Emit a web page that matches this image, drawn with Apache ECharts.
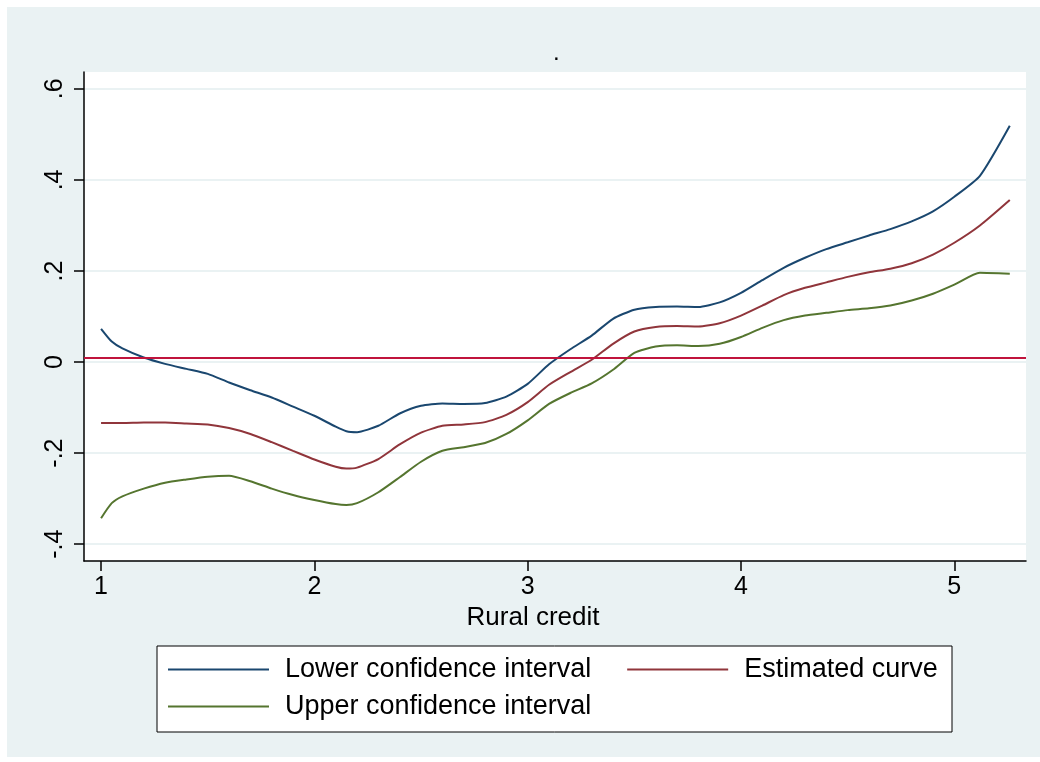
<!DOCTYPE html>
<html>
<head>
<meta charset="utf-8">
<script src="https://cdn.jsdelivr.net/npm/echarts@6/dist/echarts.min.js"></script>
<style>
  html, body { margin: 0; padding: 0; background: #ffffff; }
  #wrap { position: relative; width: 1040px; height: 762px; }
  #bg { position: absolute; left: 7px; top: 7px; right: 0; bottom: 5px; background: #EAF2F3; }
  #chart { position: absolute; left: 0; top: 0; width: 1040px; height: 762px; }
</style>
</head>
<body>
<div id="wrap">
  <div id="bg"></div>
  <div id="chart"></div>
</div>
<script>
// Rural credit (x) and the fitted effect with its confidence band
const creditX = [1.0, 1.05, 1.1, 1.2, 1.3, 1.4, 1.5, 1.6, 1.7, 1.8, 1.9, 2.0, 2.1, 2.15, 2.2,
  2.3, 2.4, 2.5, 2.6, 2.7, 2.8, 2.9, 3.0, 3.1, 3.2, 3.3, 3.4, 3.5, 3.6, 3.7, 3.8, 3.9,
  4.0, 4.1, 4.2, 4.3, 4.4, 4.5, 4.6, 4.7, 4.8, 4.9, 5.0, 5.12, 5.26];

const lowerCI = [0.073, 0.045, 0.030, 0.010, -0.004, -0.015, -0.026, -0.045, -0.062, -0.078,
  -0.098, -0.118, -0.142, -0.152, -0.154, -0.140, -0.113, -0.096, -0.091, -0.092, -0.090,
  -0.076, -0.048, -0.005, 0.028, 0.058, 0.095, 0.115, 0.121, 0.122, 0.121, 0.131, 0.152,
  0.180, 0.207, 0.229, 0.248, 0.263, 0.278, 0.292, 0.309, 0.331, 0.363, 0.409, 0.519];

const estimate = [-0.134, -0.134, -0.134, -0.133, -0.133, -0.135, -0.137, -0.145, -0.158, -0.176,
  -0.195, -0.214, -0.230, -0.234, -0.232, -0.213, -0.181, -0.155, -0.140, -0.137, -0.132,
  -0.116, -0.088, -0.050, -0.022, 0.005, 0.040, 0.067, 0.077, 0.079, 0.078, 0.085, 0.102,
  0.124, 0.147, 0.163, 0.175, 0.187, 0.197, 0.205, 0.217, 0.236, 0.262, 0.300, 0.356];

const upperCI = [-0.343, -0.310, -0.295, -0.278, -0.265, -0.258, -0.252, -0.250, -0.262, -0.278,
  -0.292, -0.303, -0.312, -0.314, -0.310, -0.286, -0.253, -0.219, -0.195, -0.187, -0.178,
  -0.158, -0.128, -0.092, -0.068, -0.047, -0.017, 0.020, 0.034, 0.037, 0.035, 0.040, 0.055,
  0.075, 0.092, 0.102, 0.108, 0.114, 0.118, 0.124, 0.135, 0.150, 0.170, 0.196, 0.194];

// horizontal reference level
const refLevel = 0.01;

// axis ticks and their labels
const xTicks = [1, 2, 3, 4, 5];
const yTicks = [-0.4, -0.2, 0, 0.2, 0.4, 0.6];
const yTickLabels = ['-.4', '-.2', '0', '.2', '.4', '.6'];

const seriesNames = ['Lower confidence interval', 'Estimated curve', 'Upper confidence interval'];
const colors = ['#1A476F', '#90353B', '#55752F'];

const FONT = '"Liberation Sans", Arial, sans-serif';
const pairs = ys => creditX.map((x, i) => [x, ys[i]]);

const chart = echarts.init(document.getElementById('chart'), null, { renderer: 'canvas' });

const lineSeries = (name, ys, color, extra) => Object.assign({
  name: name,
  type: 'line',
  data: pairs(ys),
  symbol: 'none',
  smooth: 0.2,
  lineStyle: { color: color, width: 2 },
  itemStyle: { color: color },
  silent: true,
  animation: false,
  z: 3
}, extra || {});

const legendText = { fontFamily: FONT, fontSize: 27, color: '#000', padding: [0, 0, 0, 11] };

chart.setOption({
  animation: false,
  backgroundColor: 'transparent',
  title: {
    text: '.',
    left: 548,
    top: 36,
    textStyle: { fontFamily: FONT, fontSize: 24, fontWeight: 'normal', color: '#000' }
  },
  grid: {
    left: 84, right: 14, top: 72, bottom: 201,
    show: true, backgroundColor: '#ffffff', borderWidth: 0
  },
  graphic: [{
    type: 'rect',
    shape: { x: 157, y: 646, width: 795, height: 86 },
    style: { fill: '#ffffff', stroke: '#000000', lineWidth: 1 },
    z: 1,
    silent: true
  }],
  legend: [{
    data: seriesNames.slice(0, 2),
    orient: 'horizontal',
    left: 168, top: 656,
    padding: 0,
    itemGap: 36,
    itemWidth: 101, itemHeight: 2,
    icon: 'rect',
    textStyle: legendText,
    selectedMode: false
  }, {
    data: seriesNames.slice(2),
    orient: 'horizontal',
    left: 168, top: 693,
    padding: 0,
    itemWidth: 101, itemHeight: 2,
    icon: 'rect',
    textStyle: legendText,
    selectedMode: false
  }],
  xAxis: {
    type: 'value',
    min: 0.92, max: 5.336,
    name: 'Rural credit',
    nameLocation: 'middle',
    nameGap: 40,
    nameTextStyle: { fontFamily: FONT, fontSize: 26, color: '#000', padding: [0, 44, 0, 0] },
    axisLine: { show: true, onZero: false, lineStyle: { color: '#000', width: 1.5 } },
    axisTick: { show: true, length: 10, customValues: xTicks, lineStyle: { color: '#000', width: 1.5 } },
    axisLabel: {
      customValues: xTicks, margin: 14,
      fontFamily: FONT, fontSize: 25, color: '#000',
      formatter: v => String(v)
    },
    splitLine: { show: false }
  },
  yAxis: {
    type: 'value',
    min: -0.437, max: 0.637,
    axisLine: { show: true, onZero: false, lineStyle: { color: '#000', width: 1.5 } },
    axisTick: { show: true, length: 10, customValues: yTicks, lineStyle: { color: '#000', width: 1.5 } },
    axisLabel: {
      customValues: yTicks, margin: 16, rotate: 90,
      fontFamily: FONT, fontSize: 25, color: '#000',
      formatter: v => {
        const i = yTicks.findIndex(t => Math.abs(t - v) < 1e-9);
        return i >= 0 ? yTickLabels[i] : '';
      }
    },
    splitLine: { show: true, lineStyle: { color: '#EAF2F3', width: 2 } }
  },
  series: [
    lineSeries(seriesNames[0], lowerCI, colors[0]),
    lineSeries(seriesNames[1], estimate, colors[1], {
      markLine: {
        silent: true,
        symbol: 'none',
        label: { show: false },
        lineStyle: { color: '#C0143C', width: 2, type: 'solid' },
        data: [{ yAxis: refLevel }],
        animation: false
      }
    }),
    lineSeries(seriesNames[2], upperCI, colors[2])
  ]
});
</script>
</body>
</html>
